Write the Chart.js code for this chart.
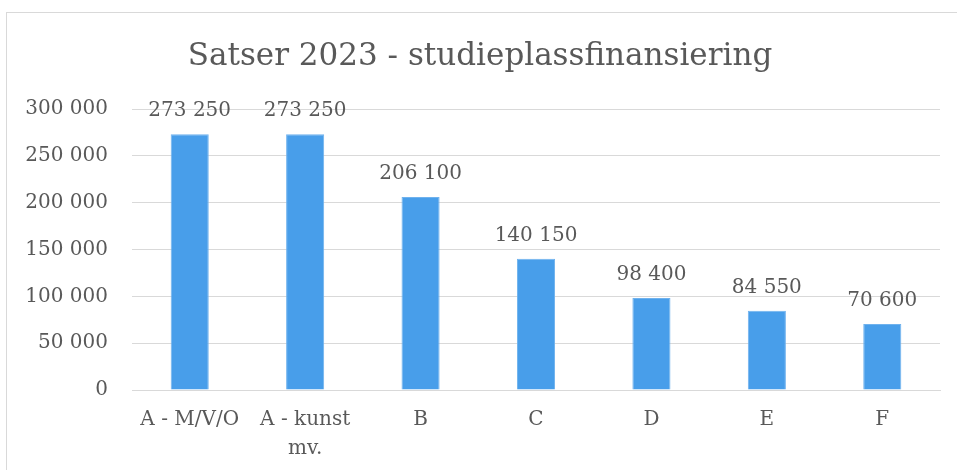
<!DOCTYPE html>
<html lang="no">
<head>
  <meta charset="UTF-8">
  <title>Satser 2023</title>
  <script src="https://cdn.jsdelivr.net/npm/chart.js"></script>
  <style>
    body { margin: 0; padding: 0; background: #ffffff; overflow: hidden; }
    .wrap { position: relative; width: 957px; height: 470px; }
    .frame { position: absolute; left: 6px; top: 12px; width: 970px; height: 480px; border: 1px solid #d9d9d9; box-sizing: border-box; }
    canvas { position: absolute; left: 0; top: 0; }
  </style>
</head>
<body>
  <div class="wrap">
    <div class="frame"></div>
    <canvas id="chart" width="957" height="470"></canvas>
  </div>

  <script>
    const categories = ['A - M/V/O', ['A - kunst', 'mv.'], 'B', 'C', 'D', 'E', 'F'];
    const rates = [273250, 273250, 206100, 140150, 98400, 84550, 70600];
    const yTicks = [0, 50000, 100000, 150000, 200000, 250000, 300000];

    const fontFamily = '"DejaVu Serif", "Liberation Serif", serif';
    const textColor = '#595959';

    // thousands with a plain space, like the Norwegian original
    const fmt = v => String(v).replace(/\B(?=(\d{3})+(?!\d))/g, ' ');

    // value labels above each bar
    const valueLabels = {
      id: 'valueLabels',
      afterDatasetsDraw(chart) {
        const ctx = chart.ctx;
        const meta = chart.getDatasetMeta(0);
        ctx.save();
        ctx.font = '20px ' + fontFamily;
        ctx.fillStyle = textColor;
        ctx.textAlign = 'center';
        ctx.textBaseline = 'middle';
        meta.data.forEach((bar, i) => {
          ctx.fillText(fmt(rates[i]), bar.x, bar.y - 23);
        });
        ctx.restore();
      }
    };

    new Chart(document.getElementById('chart'), {
      type: 'bar',
      data: {
        labels: categories,
        datasets: [{
          data: rates,
          backgroundColor: '#489eea',
          borderColor: '#6fb2ee',
          borderWidth: 1,
          categoryPercentage: 1,
          barPercentage: 0.33
        }]
      },
      options: {
        responsive: false,
        animation: false,
        layout: { padding: { left: 20, right: 17, top: 0, bottom: 0 } },
        plugins: {
          legend: { display: false },
          tooltip: { enabled: false },
          title: {
            display: true,
            text: 'Satser 2023 - studieplassfinansiering',
            color: textColor,
            font: { family: fontFamily, size: 31, weight: 'normal' },
            padding: { top: 38, bottom: 34 }
          }
        },
        scales: {
          y: {
            min: 0,
            max: 300000,
            afterBuildTicks(scale) { scale.ticks = yTicks.map(v => ({ value: v })); },
            afterFit(scale) { scale.width = 112; },
            ticks: {
              color: textColor,
              font: { family: fontFamily, size: 20 },
              padding: 24,
              callback: v => fmt(v)
            },
            grid: { color: '#d9d9d9', lineWidth: 1, drawTicks: false },
            border: { display: false }
          },
          x: {
            afterFit(scale) { scale.height = 80; },
            ticks: {
              color: textColor,
              font: { family: fontFamily, size: 20, lineHeight: 1.45 },
              padding: 15,
              maxRotation: 0,
              autoSkip: false
            },
            grid: { display: false, drawTicks: false },
            border: { display: true, color: '#d9d9d9', width: 1 }
          }
        }
      },
      plugins: [valueLabels]
    });
  </script>
</body>
</html>
